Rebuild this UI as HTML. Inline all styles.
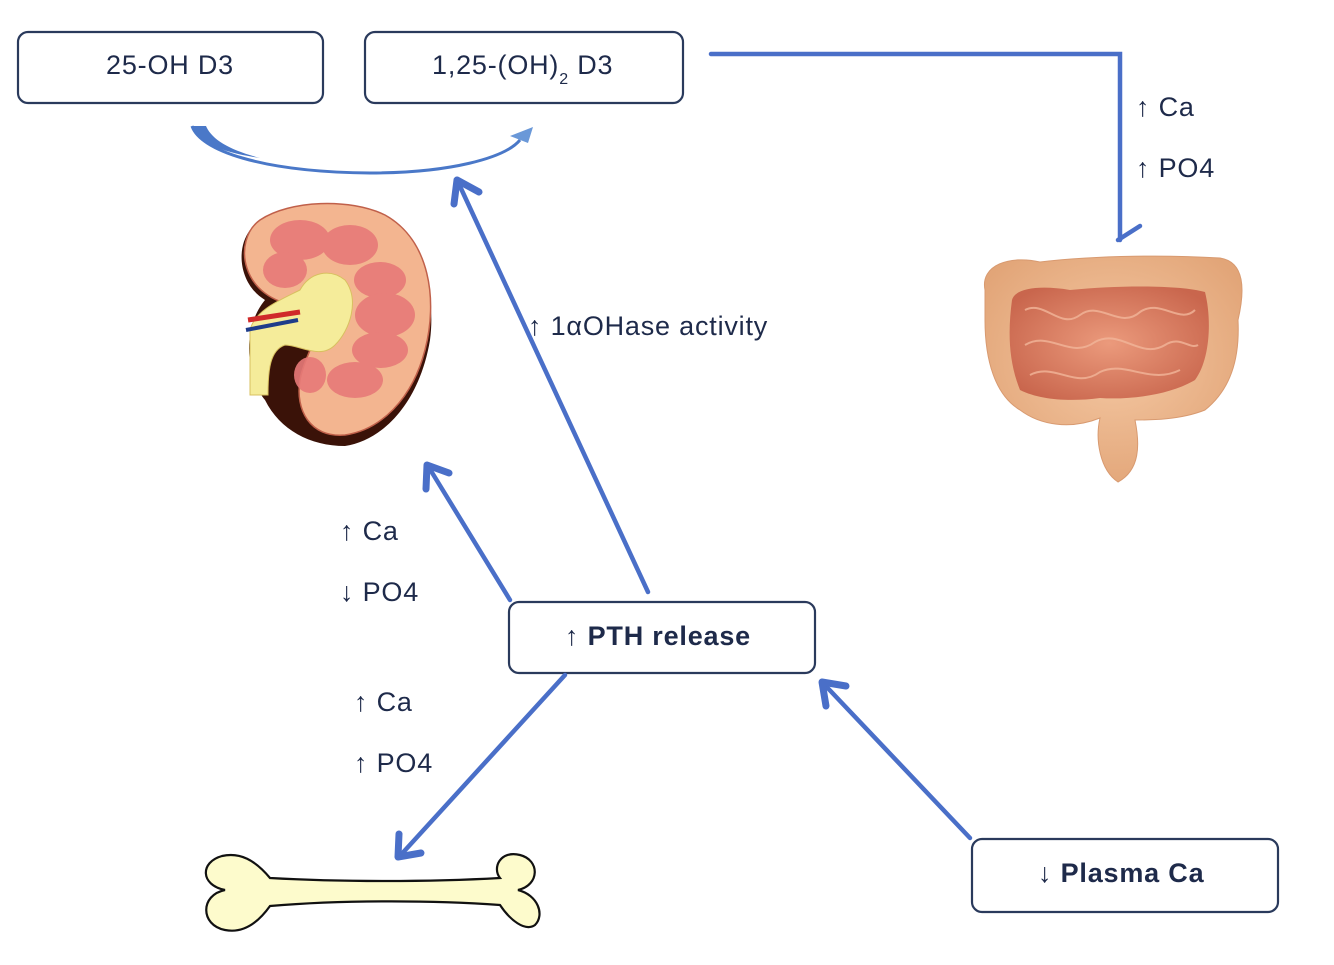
<!DOCTYPE html>
<html><head><meta charset="utf-8"><style>
html,body{margin:0;padding:0;background:#fff;}
svg{display:block;}
text{font-family:"Liberation Sans",sans-serif;fill:#1e2a4a;letter-spacing:0.8px;}
</style></head><body>
<svg width="1334" height="965" viewBox="0 0 1334 965" xmlns="http://www.w3.org/2000/svg">
<defs>
<radialGradient id="gi" cx="50%" cy="45%" r="60%"><stop offset="0" stop-color="#f5c9a4"/><stop offset="1" stop-color="#e2a578"/></radialGradient>
<radialGradient id="si" cx="50%" cy="50%" r="60%"><stop offset="0" stop-color="#eb9a7c"/><stop offset="1" stop-color="#c9664d"/></radialGradient>
</defs>
<g fill="#fff" stroke="#2a3a5c" stroke-width="2.2">
<rect x="18" y="32" width="305" height="71" rx="10"/>
<rect x="365" y="32" width="318" height="71" rx="10"/>
<rect x="509" y="602" width="306" height="71" rx="10"/>
<rect x="972" y="839" width="306" height="73" rx="10"/>
</g>
<text x="170" y="74" font-size="27" text-anchor="middle">25-OH D3</text>
<text x="432" y="74" font-size="27">1,25-(OH)<tspan font-size="16" dy="10">2</tspan><tspan dy="-10"> D3</tspan></text>
<text x="565" y="645" font-size="27" font-weight="bold">↑ PTH release</text>
<text x="1038" y="882" font-size="27" font-weight="bold">↓ Plasma Ca</text>
<g font-size="27">
<text x="1136" y="116">↑ Ca</text>
<text x="1136" y="177">↑ PO4</text>
<text x="528" y="335">↑ 1αOHase activity</text>
<text x="340" y="540">↑ Ca</text>
<text x="340" y="601">↓ PO4</text>
<text x="354" y="711">↑ Ca</text>
<text x="354" y="772">↑ PO4</text>
</g>
<g stroke="#4a6fc8" stroke-width="4.5" fill="none" stroke-linecap="round" stroke-linejoin="miter">
<polyline points="711,54 1120,54 1120,240"/>
<line x1="1118" y1="240" x2="1140" y2="226"/>
<line x1="648" y1="592" x2="458" y2="182"/>
<line x1="510" y1="600" x2="428" y2="466"/>
<line x1="565" y1="675" x2="398" y2="858"/>
<line x1="970" y1="838" x2="822" y2="682"/>
</g>
<g stroke="#4a6fc8" stroke-width="7" fill="none" stroke-linecap="round" stroke-linejoin="round">
<polyline points="454,204 457,180 479,192"/>
<polyline points="426,489 427,465 449,473"/>
<polyline points="399,834 398,857 421,853"/>
<polyline points="826,706 822,682 846,686"/>
</g>
<path d="M192,126 C200,150 260,172 370,173 C450,173 505,158 520,140" stroke="#4a78c8" stroke-width="3" fill="none"/>
<path d="M192,126 L206,126 C212,140 230,150 260,158 C220,152 196,142 192,126Z" fill="#4a78c8"/>
<path d="M510,136 L533,127 L528,143Z" fill="#6a98d8"/>
<g>
<path d="M265,300 C240,330 248,380 265,400 C280,430 310,446 345,446 C385,440 420,400 430,340 C438,280 410,220 360,207 C320,200 270,210 250,230 C235,250 240,285 265,300Z" fill="#3a1208"/>
<path d="M300,306 C240,300 232,240 260,220 C290,200 350,198 385,215 C430,240 438,300 425,350 C412,400 380,430 345,435 C310,438 295,410 300,380 C305,350 330,330 300,306Z" fill="#f3b590" stroke="#c0604a" stroke-width="1.5"/>
<g fill="#e77a78" opacity="0.9">
<ellipse cx="300" cy="240" rx="30" ry="20"/>
<ellipse cx="350" cy="245" rx="28" ry="20"/>
<ellipse cx="380" cy="280" rx="26" ry="18"/>
<ellipse cx="385" cy="315" rx="30" ry="22"/>
<ellipse cx="380" cy="350" rx="28" ry="18"/>
<ellipse cx="285" cy="270" rx="22" ry="18"/>
<ellipse cx="355" cy="380" rx="28" ry="18"/>
<ellipse cx="310" cy="375" rx="16" ry="18"/>
</g>
<path d="M250,395 L250,330 C255,310 280,300 300,290 C310,272 330,268 345,280 C360,300 350,330 335,345 C320,360 300,345 285,345 C270,350 268,370 268,395Z" fill="#f5ec9a" stroke="#d8c060" stroke-width="1"/>
<path d="M248,320 L300,312" stroke="#d02a2a" stroke-width="5"/>
<path d="M246,330 L298,320" stroke="#1e3c8a" stroke-width="4"/>
</g>
<g>
<path d="M985,290 C980,265 1010,255 1040,262 C1100,255 1170,255 1220,258 C1245,262 1245,290 1238,320 C1240,360 1230,390 1205,410 C1180,420 1150,420 1135,420 C1140,445 1140,470 1118,482 C1100,470 1095,440 1100,418 C1070,430 1040,425 1020,410 C995,395 985,360 985,320Z" fill="url(#gi)" stroke="#d89a70" stroke-width="1"/>
<path d="M1012,300 C1015,288 1040,285 1070,290 C1120,285 1180,285 1205,292 C1212,320 1210,360 1195,380 C1170,395 1130,400 1100,398 C1070,402 1040,400 1020,390 C1008,360 1008,330 1012,300Z" fill="url(#si)"/>
<g stroke="#f2b69a" stroke-width="2" fill="none" opacity="0.8">
<path d="M1025,310 C1045,300 1060,330 1080,315 C1100,300 1120,330 1140,312 C1160,298 1180,325 1195,310"/>
<path d="M1025,345 C1050,330 1070,360 1095,342 C1120,328 1140,360 1165,345 C1180,335 1190,350 1198,345"/>
<path d="M1030,375 C1055,362 1075,390 1100,372 C1125,360 1150,385 1180,370"/>
</g>
</g>
<path d="M270,878 C255,860 240,852 222,856 C200,862 200,885 225,890 C200,895 200,925 225,930 C245,934 260,920 270,906 C340,900 430,900 500,905 C510,920 525,932 535,925 C545,915 538,895 518,890 C540,885 540,860 520,855 C500,850 492,868 500,878 C430,882 340,882 270,878Z" fill="#fdfbcc" stroke="#111" stroke-width="2.2"/>
</svg>
</body></html>
